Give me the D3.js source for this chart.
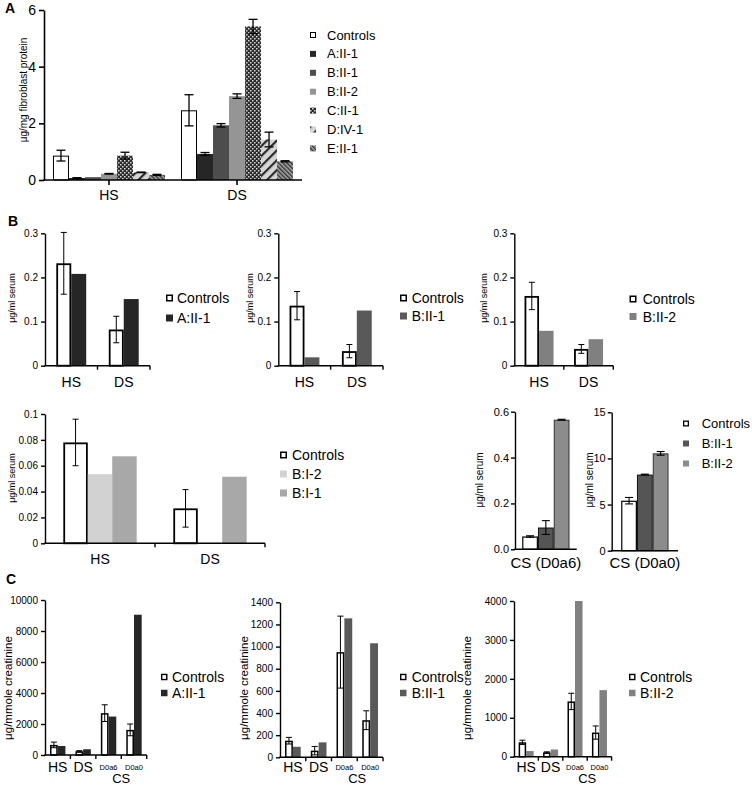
<!DOCTYPE html>
<html><head><meta charset="utf-8">
<script src="https://cdn.jsdelivr.net/npm/d3@7"></script>
<style>body{margin:0;background:#fff} text{font-family:"Liberation Sans",Arial,sans-serif;fill:#000}</style>
</head><body><svg id="c" width="752" height="786"></svg>
<script>
// ---------- DATA ----------
// Panel A (μg/mg fibroblast protein)
const catsA = ["HS", "DS"];
const namesA = ["Controls", "A:II-1", "B:II-1", "B:II-2", "C:II-1", "D:IV-1", "E:II-1"];
const aControls = [0.86, 2.46], aControlsErr = [0.19, 0.55];
const aA_II1 = [0.07, 0.92], aA_II1Err = [0.01, 0.05];
const aB_II1 = [0.10, 1.93], aB_II1Err = [0.0, 0.06];
const aB_II2 = [0.22, 2.96], aB_II2Err = [0.01, 0.08];
const aC_II1 = [0.86, 5.42], aC_II1Err = [0.12, 0.25];
const aD_IV1 = [0.27, 1.43], aD_IV1Err = [0.01, 0.26];
const aE_II1 = [0.18, 0.66], aE_II1Err = [0.02, 0.02];
const ticksA = [0, 2, 4, 6];

// Panel B (μg/ml serum)
const catsB = ["HS", "DS"];
const b1Controls = [0.232, 0.082], b1ControlsErr = [0.07, 0.03];
const b1A_II1 = [0.208, 0.151];
const b2Controls = [0.136, 0.033], b2ControlsErr = [0.032, 0.015];
const b2B_II1 = [0.019, 0.125];
const b3Controls = [0.158, 0.038], b3ControlsErr = [0.031, 0.01];
const b3B_II2 = [0.079, 0.060];
const ticksB = [0, 0.1, 0.2, 0.3];
const b4Controls = [0.078, 0.027], b4ControlsErr = [0.018, 0.0145];
const b4B_I2 = [0.0535, 0];
const b4B_I1 = [0.0673, 0.0515];
const ticksB4 = [0, 0.02, 0.04, 0.06, 0.08, 0.1];
const catsB5 = ["CS (D0a6)"];
const b5Controls = [0.056], b5ControlsErr = [0.003];
const b5B_II1 = [0.095], b5B_II1Err = [0.03];
const b5B_II2 = [0.565], b5B_II2Err = [0.002];
const ticksB5 = [0, 0.2, 0.4, 0.6];
const catsB6 = ["CS (D0a0)"];
const b6Controls = [5.42], b6ControlsErr = [0.35];
const b6B_II1 = [8.25], b6B_II1Err = [0.05];
const b6B_II2 = [10.55], b6B_II2Err = [0.2];
const ticksB6 = [0, 5, 10, 15];

// Panel C (μg/mmole creatinine)
const catsC = ["HS", "DS", "D0a6", "D0a0"];
const c1Controls = [650, 240, 2700, 1620], c1ControlsErr = [180, 40, 540, 380];
const c1A_II1 = [580, 370, 2480, 9050];
const ticksC1 = [0, 2000, 4000, 6000, 8000, 10000];
const c2Controls = [150, 60, 950, 335], c2ControlsErr = [30, 38, 325, 85];
const c2B_II1 = [95, 135, 1255, 1030];
const ticksC2 = [0, 200, 400, 600, 800, 1000, 1200, 1400];
const c3Controls = [370, 110, 1420, 620], c3ControlsErr = [55, 15, 210, 170];
const c3B_II2 = [145, 185, 4000, 1710];
const ticksC3 = [0, 1000, 2000, 3000, 4000];

// ---------- DRAWING ----------
const svg = d3.select("#c");
const defs = svg.append("defs");
{
  const p = defs.append("pattern").attr("id", "pC").attr("width", 4).attr("height", 4).attr("patternUnits", "userSpaceOnUse");
  p.append("rect").attr("width", 4).attr("height", 4).attr("fill", "#2b2b2b");
  p.append("rect").attr("width", 1.5).attr("height", 1.5).attr("fill", "#d8d8d8");
  p.append("rect").attr("x", 2).attr("y", 2).attr("width", 1.5).attr("height", 1.5).attr("fill", "#d8d8d8");
  const q = defs.append("pattern").attr("id", "pD").attr("width", 7).attr("height", 7).attr("patternUnits", "userSpaceOnUse").attr("patternTransform", "rotate(45)");
  q.append("rect").attr("width", 7).attr("height", 7).attr("fill", "#d6d6d6");
  q.append("rect").attr("width", 2.2).attr("height", 7).attr("fill", "#2a2a2a");
  const r = defs.append("pattern").attr("id", "pE").attr("width", 3).attr("height", 3).attr("patternUnits", "userSpaceOnUse").attr("patternTransform", "rotate(-45)");
  r.append("rect").attr("width", 3).attr("height", 3).attr("fill", "#a8a8a8");
  r.append("rect").attr("width", 1.4).attr("height", 3).attr("fill", "#333");
}

const CTRL = { fill: "#fff", stroke: "#000" };

function drawChart(o) {
  const g = svg.append("g");
  const y = d3.scaleLinear().domain([0, o.yMax]).range([o.yBottom, o.yTop]);
  const x = d3.scaleBand().domain(o.cats).range([o.xLeft, o.xRight]).paddingInner(o.pi).paddingOuter(o.po);
  const xs = d3.scaleBand().domain(o.series.map(s => s.name)).range([0, x.bandwidth()]);
  o.series.forEach(s => {
    const sw = s.sw || 0;
    const rows = o.cats.map((c, i) => ({ c, v: s.vals[i], e: s.errs ? s.errs[i] : null }));
    g.append("g").selectAll("rect").data(rows.filter(d => d.v > 0)).join("rect")
      .attr("x", d => x(d.c) + xs(s.name) + sw / 2)
      .attr("width", xs.bandwidth() - sw)
      .attr("y", d => y(d.v) + sw / 2)
      .attr("height", d => Math.max(0, y(0) - y(d.v) - sw / 2))
      .attr("fill", s.fill)
      .attr("stroke", s.stroke || "none")
      .attr("stroke-width", sw);
    const eg = g.append("g").attr("stroke", "#000").attr("stroke-width", o.errW || 1.1);
    rows.filter(d => d.e !== null && d.e > 0).forEach(d => {
      const cx = x(d.c) + xs(s.name) + xs.bandwidth() / 2;
      eg.append("line").attr("x1", cx).attr("x2", cx).attr("y1", y(d.v - d.e)).attr("y2", y(d.v + d.e));
      [d.v - d.e, d.v + d.e].forEach(v => eg.append("line").attr("x1", cx - o.cap / 2).attr("x2", cx + o.cap / 2).attr("y1", y(v)).attr("y2", y(v)));
    });
  });
  // y axis
  const ya = g.append("g").attr("transform", `translate(${o.xLeft},0)`)
    .call(d3.axisLeft(y).tickValues(o.yTicks).tickFormat(o.fmt).tickSize(o.tickLen).tickSizeOuter(0).tickPadding(o.tickPad || 3));
  ya.selectAll("text").style("font-size", o.tickFont + "px");
  ya.selectAll("line,path").attr("stroke", "#000").attr("stroke-width", o.axisW);
  // x axis line
  g.append("line").attr("x1", o.xLeft - o.axisW / 2).attr("x2", o.xRight).attr("y1", y(0)).attr("y2", y(0))
    .attr("stroke", "#000").attr("stroke-width", o.axisW);
  // x ticks
  let tickXs = [];
  if (o.xTickMode === "center") tickXs = o.cats.map(c => x(c) + x.bandwidth() / 2);
  else if (o.xTickMode === "bound") {
    tickXs = o.cats.map(c => x(c) - x.step() * x.paddingInner() / 2).slice(1);
    tickXs.push(o.xRight);
  }
  tickXs.forEach(tx => g.append("line").attr("x1", tx).attr("x2", tx).attr("y1", y(0)).attr("y2", y(0) + o.xTickLen)
    .attr("stroke", "#000").attr("stroke-width", o.axisW));
  // x labels
  const xa = g.append("g").attr("transform", `translate(0,${o.xLabelY})`)
    .call(d3.axisBottom(x).tickSize(0).tickPadding(0));
  xa.select(".domain").remove();
  xa.selectAll("text").attr("dy", 0).style("font-size", d => (o.smallCats && o.smallCats.includes(d) ? o.smallFont : o.xFont) + "px")
    .attr("y", d => (o.smallCats && o.smallCats.includes(d) ? o.smallDy : 0));
  if (o.groupLabel) {
    const gx = d3.mean(o.smallCats, c => x(c) + x.bandwidth() / 2);
    g.append("text").attr("x", gx).attr("y", o.groupLabelY).attr("text-anchor", "middle").style("font-size", o.groupFont + "px").text(o.groupLabel);
  }
  // y label
  g.append("text").attr("transform", `translate(${o.yLabelX},${o.yLabelY}) rotate(-90)`)
    .attr("text-anchor", "middle").attr("dominant-baseline", "central").style("font-size", o.yLabelFont + "px").text(o.yLabel);
}

function legend(o) {
  const g = svg.append("g");
  o.items.forEach((it, i) => {
    const cy = o.y + i * o.dy;
    const ms = o.ms, sw = it.stroke ? o.msw : 0;
    g.append("rect").attr("x", o.mx + sw / 2).attr("y", cy - ms / 2 + sw / 2).attr("width", ms - sw).attr("height", ms - sw)
      .attr("fill", it.fill).attr("stroke", it.stroke || "none").attr("stroke-width", sw);
    g.append("text").attr("x", o.tx).attr("y", cy).attr("dominant-baseline", "central").style("font-size", o.font + "px").text(it.name);
  });
}

function panelLabel(t, x, y) {
  svg.append("text").attr("x", x).attr("y", y).style("font-size", "14px").style("font-weight", "bold").text(t);
}

// ---- Panel A ----
const seriesA = [
  { name: namesA[0], vals: aControls, errs: aControlsErr, fill: "#fff", stroke: "#000", sw: 1 },
  { name: namesA[1], vals: aA_II1, errs: aA_II1Err, fill: "#262626" },
  { name: namesA[2], vals: aB_II1, errs: aB_II1Err, fill: "#4d4d4d" },
  { name: namesA[3], vals: aB_II2, errs: aB_II2Err, fill: "#959595" },
  { name: namesA[4], vals: aC_II1, errs: aC_II1Err, fill: "url(#pC)" },
  { name: namesA[5], vals: aD_IV1, errs: aD_IV1Err, fill: "url(#pD)" },
  { name: namesA[6], vals: aE_II1, errs: aE_II1Err, fill: "url(#pE)" }
];
drawChart({ cats: catsA, series: seriesA, yMax: 6, yTicks: ticksA, fmt: d3.format("d"),
  xLeft: 44, xRight: 302, yTop: 10, yBottom: 180, pi: 0.125, po: 0.07,
  tickFont: 14, tickLen: 5, tickPad: 3, axisW: 1.6, xTickMode: "center", xTickLen: 5,
  xLabelY: 200, xFont: 14, cap: 9, errW: 1.3,
  yLabel: "μg/mg fibroblast protein", yLabelX: 23, yLabelY: 90, yLabelFont: 10 });
legend({ items: seriesA, mx: 310, tx: 327, y: 35, dy: 18.9, ms: 6, msw: 1, font: 13 });
panelLabel("A", 5, 13);

// ---- Panel B row 1 ----
const fmtB = v => v === 0 ? "0" : d3.format(".1f")(v);
const baseB = { cats: catsB, yMax: 0.3, yTicks: ticksB, fmt: fmtB, yTop: 233.3, yBottom: 365.7, pi: 0.43, po: 0.215,
  tickFont: 10, tickLen: 4, tickPad: 3, axisW: 1.4, xTickMode: "bound", xTickLen: 4,
  xLabelY: 387, xFont: 14, cap: 6, errW: 1,
  yLabel: "μg/ml serum", yLabelY: 298, yLabelFont: 9 };
drawChart(Object.assign({}, baseB, { xLeft: 45, xRight: 150, yLabelX: 12,
  series: [{ name: "Controls", vals: b1Controls, errs: b1ControlsErr, fill: "#fff", stroke: "#000", sw: 1.8 },
           { name: "A:II-1", vals: b1A_II1, fill: "#262626" }] }));
legend({ items: [{ name: "Controls", ...CTRL }, { name: "A:II-1", fill: "#262626" }], mx: 166, tx: 177, y: 298, dy: 20, ms: 7, msw: 1.5, font: 14 });
drawChart(Object.assign({}, baseB, { xLeft: 278.3, xRight: 383, yLabelX: 250,
  series: [{ name: "Controls", vals: b2Controls, errs: b2ControlsErr, fill: "#fff", stroke: "#000", sw: 1.8 },
           { name: "B:II-1", vals: b2B_II1, fill: "#595959" }] }));
legend({ items: [{ name: "Controls", ...CTRL }, { name: "B:II-1", fill: "#595959" }], mx: 400, tx: 411.7, y: 298, dy: 18, ms: 7, msw: 1.5, font: 14 });
drawChart(Object.assign({}, baseB, { xLeft: 514.3, xRight: 613.3, pi: 0.414, po: 0.207, yLabelX: 484,
  series: [{ name: "Controls", vals: b3Controls, errs: b3ControlsErr, fill: "#fff", stroke: "#000", sw: 1.8 },
           { name: "B:II-2", vals: b3B_II2, fill: "#808080" }] }));
legend({ items: [{ name: "Controls", ...CTRL }, { name: "B:II-2", fill: "#808080" }], mx: 629.5, tx: 642.7, y: 299, dy: 17.5, ms: 7, msw: 1.5, font: 14 });
panelLabel("B", 8, 226);

// ---- Panel B row 2 ----
drawChart({ cats: catsB, yMax: 0.1, yTicks: ticksB4, fmt: v => v === 0 ? "0" : d3.format(".2~f")(v),
  xLeft: 45, xRight: 265, yTop: 414, yBottom: 543.3, pi: 0.333, po: 0.1667,
  tickFont: 10, tickLen: 4, tickPad: 3, axisW: 1.4, xTickMode: "bound", xTickLen: 4,
  xLabelY: 564, xFont: 14, cap: 6, errW: 1,
  yLabel: "μg/ml serum", yLabelX: 12, yLabelY: 478, yLabelFont: 9,
  series: [{ name: "Controls", vals: b4Controls, errs: b4ControlsErr, fill: "#fff", stroke: "#000", sw: 1.8 },
           { name: "B:I-2", vals: b4B_I2, fill: "#d2d2d2" },
           { name: "B:I-1", vals: b4B_I1, fill: "#a8a8a8" }] });
legend({ items: [{ name: "Controls", ...CTRL }, { name: "B:I-2", fill: "#d2d2d2" }, { name: "B:I-1", fill: "#a8a8a8" }],
  mx: 280, tx: 292, y: 455, dy: 19, ms: 7, msw: 1.5, font: 14 });

const seriesB56 = (c, ce, b1, b1e, b2, b2e) => [
  { name: "Controls", vals: c, errs: ce, fill: "#fff", stroke: "#000", sw: 1.2 },
  { name: "B:II-1", vals: b1, errs: b1e, fill: "#555555", stroke: "#111", sw: 1 },
  { name: "B:II-2", vals: b2, errs: b2e, fill: "#8c8c8c", stroke: "#333", sw: 1 }];
drawChart({ cats: catsB5, yMax: 0.6, yTicks: ticksB5, fmt: d3.format(".1f"),
  xLeft: 515, xRight: 576.7, yTop: 411.7, yBottom: 549.3, pi: 0, po: 0.152,
  tickFont: 11, tickLen: 4, tickPad: 2, axisW: 1.4, xTickMode: "none", xTickLen: 0,
  xLabelY: 568, xFont: 15, cap: 8, errW: 1.1,
  yLabel: "μg/ml serum", yLabelX: 479, yLabelY: 480, yLabelFont: 10,
  series: seriesB56(b5Controls, b5ControlsErr, b5B_II1, b5B_II1Err, b5B_II2, b5B_II2Err) });
drawChart({ cats: catsB6, yMax: 15, yTicks: ticksB6, fmt: d3.format("d"),
  xLeft: 611.7, xRight: 678, yTop: 412.3, yBottom: 550.7, pi: 0, po: 0.2,
  tickFont: 11, tickLen: 4, tickPad: 2, axisW: 1.4, xTickMode: "none", xTickLen: 0,
  xLabelY: 568, xFont: 15, cap: 8, errW: 1.1,
  yLabel: "μg/ml serum", yLabelX: 589, yLabelY: 480, yLabelFont: 10,
  series: seriesB56(b6Controls, b6ControlsErr, b6B_II1, b6B_II1Err, b6B_II2, b6B_II2Err) });
legend({ items: [{ name: "Controls", ...CTRL }, { name: "B:II-1", fill: "#555555" }, { name: "B:II-2", fill: "#8c8c8c" }],
  mx: 683, tx: 701.7, y: 423.5, dy: 20, ms: 6, msw: 1.3, font: 13 });

// ---- Panel C ----
const baseC = { cats: catsC, tickLen: 4, tickPad: 3, tickFont: 10, axisW: 1.4, xTickMode: "bound", xTickLen: 4,
  xLabelY: 772, xFont: 14, smallCats: ["D0a6", "D0a0"], smallFont: 7.5, smallDy: -2,
  groupLabel: "CS", groupLabelY: 783, groupFont: 13, cap: 6, errW: 1,
  yLabel: "μg/mmole creatinine", yLabelY: 688, yLabelFont: 11.5 };
drawChart(Object.assign({}, baseC, { yMax: 10000, yTicks: ticksC1, fmt: d3.format("d"),
  xLeft: 45, xRight: 146.7, yTop: 600, yBottom: 755, pi: 0.394, po: 0.197, yLabelX: 8,
  series: [{ name: "Controls", vals: c1Controls, errs: c1ControlsErr, fill: "#fff", stroke: "#000", sw: 1.5 },
           { name: "A:II-1", vals: c1A_II1, fill: "#262626" }] }));
legend({ items: [{ name: "Controls", ...CTRL }, { name: "A:II-1", fill: "#262626" }], mx: 161, tx: 172, y: 677, dy: 16, ms: 6.5, msw: 1.4, font: 14 });
drawChart(Object.assign({}, baseC, { yMax: 1400, yTicks: ticksC2, fmt: d3.format("d"),
  xLeft: 280, xRight: 383, yTop: 602.3, yBottom: 757.3, pi: 0.39, po: 0.195, yLabelX: 244,
  series: [{ name: "Controls", vals: c2Controls, errs: c2ControlsErr, fill: "#fff", stroke: "#000", sw: 1.5 },
           { name: "B:II-1", vals: c2B_II1, fill: "#595959" }] }));
legend({ items: [{ name: "Controls", ...CTRL }, { name: "B:II-1", fill: "#595959" }], mx: 400, tx: 411.7, y: 677, dy: 16, ms: 6.5, msw: 1.4, font: 14 });
drawChart(Object.assign({}, baseC, { yMax: 4000, yTicks: ticksC3, fmt: d3.format("d"),
  xLeft: 514, xRight: 611.6, yTop: 601, yBottom: 756.7, pi: 0.385, po: 0.19, yLabelX: 467,
  series: [{ name: "Controls", vals: c3Controls, errs: c3ControlsErr, fill: "#fff", stroke: "#000", sw: 1.5 },
           { name: "B:II-2", vals: c3B_II2, fill: "#808080" }] }));
legend({ items: [{ name: "Controls", ...CTRL }, { name: "B:II-2", fill: "#808080" }], mx: 629, tx: 640, y: 677, dy: 16, ms: 6.5, msw: 1.4, font: 14 });
panelLabel("C", 6, 584);
</script></body></html>
